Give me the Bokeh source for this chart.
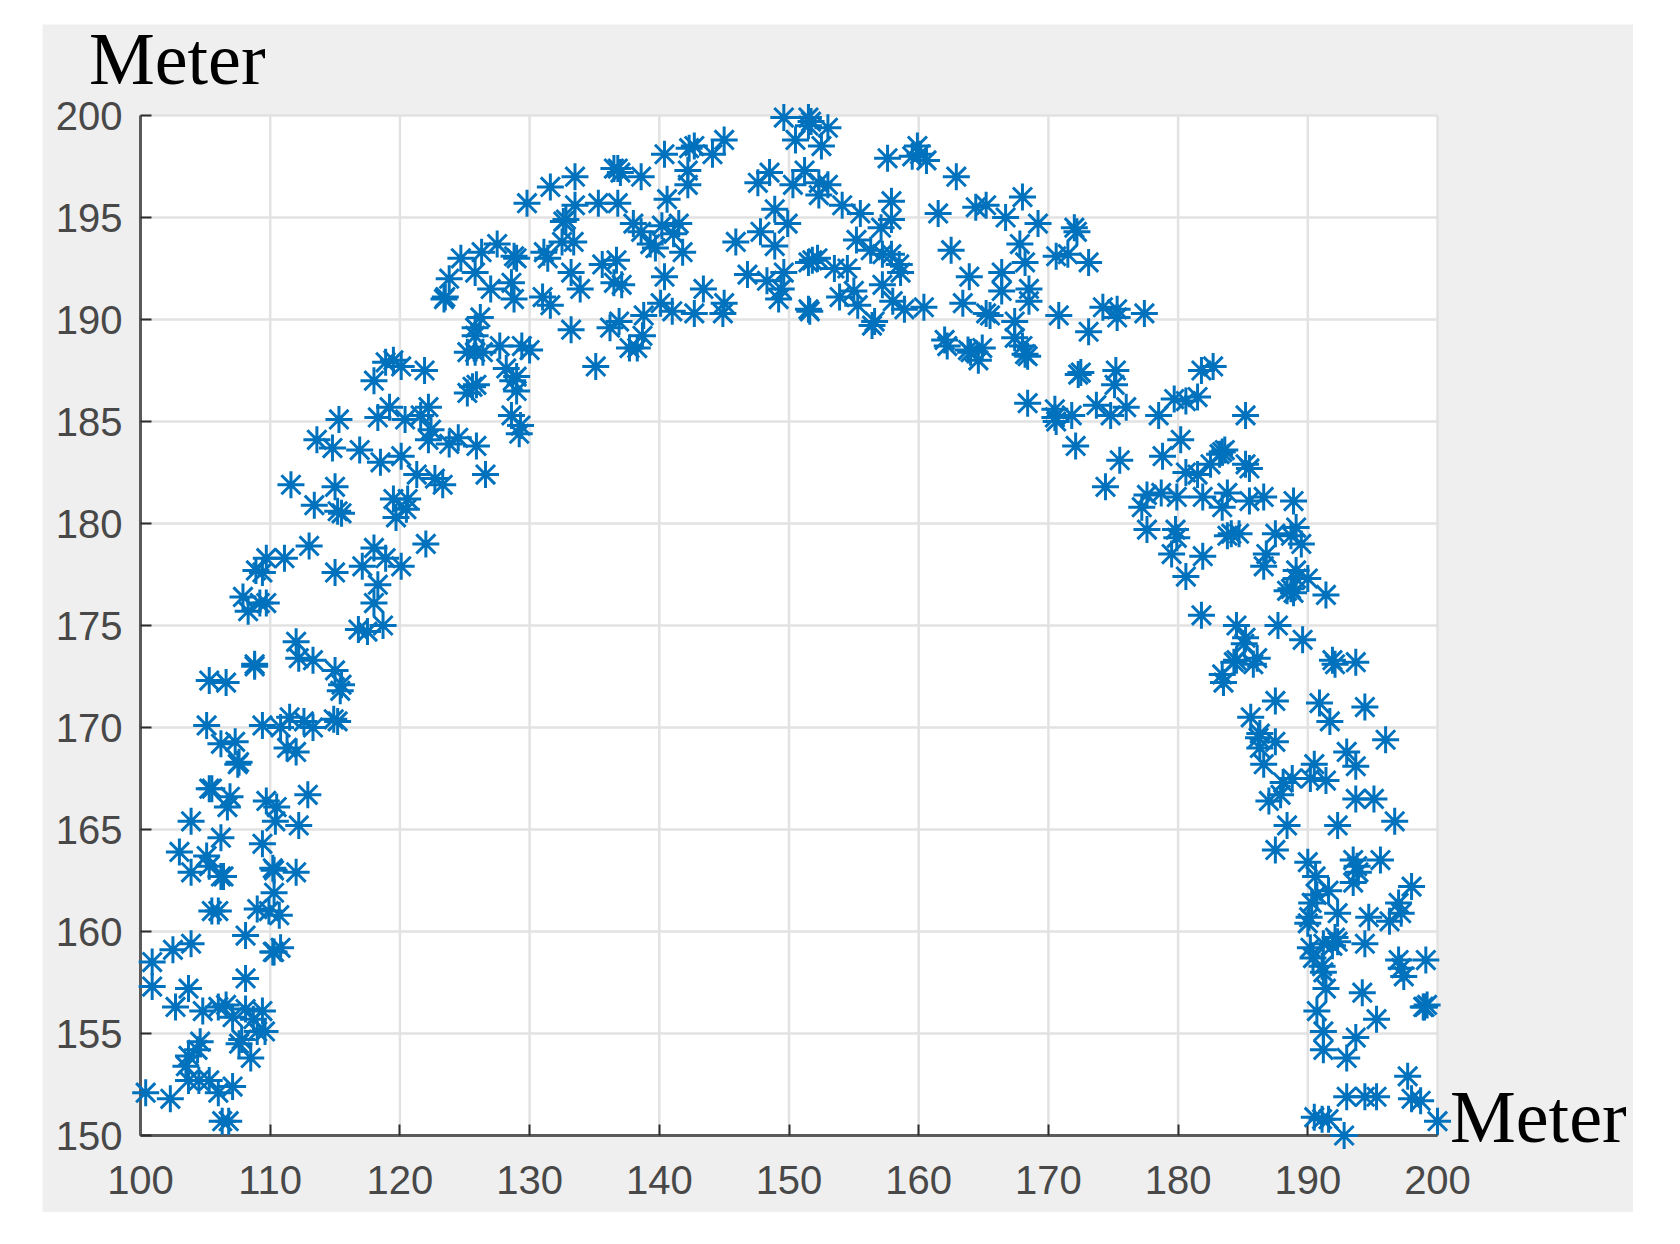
from bokeh.plotting import figure
from bokeh.models import FixedTicker, Label
from bokeh.embed import file_html
from bokeh.resources import INLINE

x_ticks = list(range(100, 201, 10))
y_ticks = list(range(150, 201, 5))
axis_title = "Meter"

bottom_left = [(105.5,161.0),(106.0,161.0),(109.0,161.1),(110.3,161.9),(110.7,160.8),(109.9,161.0),(108.1,159.8),(103.9,159.4),
 (102.5,159.1),(100.9,158.5),(100.9,157.3),(110.3,159.0),(110.8,159.2),(110.2,159.0),(108.1,157.7),(103.7,157.2),(102.7,156.3),
 (104.8,156.1),(106.0,156.3),(106.6,156.4),(108.1,156.2),(109.4,156.1),(107.1,155.8),(108.7,155.7),(109.0,155.1),(109.6,155.1),
 (107.6,154.5),(107.8,154.7),(108.5,153.8),(104.6,154.6),(104.4,154.2),(103.7,153.9),(103.5,153.4),(103.7,152.7),(104.5,152.7),
 (105.3,152.7),(106.0,152.1),(107.1,152.4),(100.4,152.1),(102.3,151.8),(106.3,150.7),(106.8,150.7)]

mid_left = [(116.8,174.8),(117.5,174.7),(118.7,175.0),(112.0,174.2),(112.2,173.4),(113.3,173.3),(115.0,172.8),(115.5,172.1),
 (115.4,171.8),(114.9,170.4),(115.2,170.3),(108.8,173.1),(108.8,173.0),(105.3,172.3),(106.6,172.2),(105.1,170.1),(109.4,170.1),
 (110.8,170.0),(111.5,170.5),(112.6,170.3),(113.3,170.0),(106.2,169.2),(107.3,169.3),(111.3,169.0),(112.0,168.8),(107.6,168.3),
 (107.5,168.2),(105.3,167.0),(105.5,167.0),(106.9,166.6),(106.7,166.1),(109.7,166.4),(110.5,166.1),(112.9,166.7),(110.4,165.4),
 (112.2,165.2),(103.9,165.4),(106.2,164.6),(109.4,164.3),(103.0,163.9),(105.1,163.7),(105.3,163.2),(103.9,162.9),(106.2,162.7),
 (106.4,162.7),(110.2,163.1),(110.3,163.0),(112.0,162.9)]

upper_left = [(125.8,189.2),(125.2,188.4),(125.8,188.4),(126.4,188.4),(127.7,188.7),(129.4,188.7),(130.0,188.5),(128.2,187.6),
 (129.0,187.2),(128.7,187.0),(129.0,186.5),(128.6,185.3),(129.3,184.8),(129.2,184.4),(125.6,186.7),(125.2,186.4),(125.9,186.8),
 (119.5,188.0),(118.9,187.9),(120.1,187.7),(121.9,187.5),(118.0,187.0),(119.2,185.7),(118.3,185.2),(120.4,185.1),(122.2,185.7),
 (121.6,185.3),(115.3,185.1),(122.4,184.6),(122.2,184.1),(123.8,183.9),(124.5,184.2),(125.9,183.8),(113.6,184.1),(114.8,183.7),
 (116.9,183.6),(118.5,183.0),(120.1,183.3),(121.3,182.4),(122.7,182.2),(123.3,181.9),(126.6,182.4),(111.6,181.9),(115.0,181.8),
 (113.4,180.9),(115.2,180.6),(115.5,180.5),(119.5,181.2),(120.6,181.2),(120.5,180.7),(119.7,180.3),(122.0,179.0),(113.0,178.9),
 (109.7,178.3),(111.1,178.3),(108.9,177.7),(109.4,177.6),(118.0,178.8),(118.9,178.3),(117.1,177.9),(120.1,177.9),(115.0,177.6),
 (118.3,177.0),(118.0,176.1),(107.9,176.4),(108.3,175.7),(109.2,176.1),(109.7,176.1),(126.2,190.1),(125.8,189.6)]

top_left = [(149.6,199.9),(151.7,199.7),(150.5,198.8),(145.0,198.8),(142.7,198.5),(142.3,198.4),(144.1,198.1),(140.4,198.1),
 (142.2,197.3),(142.2,196.6),(136.8,197.4),(137.0,197.2),(136.5,197.4),(138.6,197.0),(133.5,197.0),(131.6,196.5),(129.8,195.7),
 (140.6,195.9),(133.5,195.6),(135.3,195.7),(136.8,195.7),(132.8,194.9),(132.6,194.8),(138.0,194.7),(138.6,194.3),(140.2,194.6),
 (141.5,194.7),(141.1,194.2),(148.5,197.2),(147.6,196.7),(151.2,197.3),(150.3,196.6),(148.9,195.4),(149.9,194.7),(147.8,194.3),
 (148.9,193.6),(145.9,193.8),(149.6,192.3),(149.4,191.5),(149.2,191.0),(148.3,191.9),(146.8,192.2),(151.8,192.9),(151.5,190.5),
 (151.6,190.4),(143.4,191.5),(140.4,192.1),(141.8,193.3),(139.7,193.5),(139.3,193.7),(133.4,193.8),(132.5,193.8),(131.1,193.3),
 (131.4,193.0),(129.0,193.0),(128.8,193.1),(127.5,193.7),(126.3,193.3),(124.7,193.0),(125.8,192.3),(123.8,192.0),(123.4,191.0),
 (123.5,191.1),(127.0,191.5),(128.6,191.8),(128.8,191.0),(131.0,191.1),(131.6,190.7),(133.2,192.3),(133.9,191.5),(135.6,192.7),
 (136.7,192.9),(136.5,191.8),(137.1,191.7),(140.1,190.8),(141.0,190.4),(142.7,190.3),(144.9,190.3),(145.0,190.8),(138.8,190.2),
 (136.9,189.9),(136.2,189.6),(133.2,189.5),(138.7,189.2),(137.7,188.6),(138.3,188.6),(135.1,187.7)]

top_right = [(151.5,199.9),(151.5,199.5),(153.0,199.4),(152.5,198.5),(157.6,197.9),(159.9,198.5),(159.5,198.0),(160.1,198.1),
 (160.6,197.8),(162.9,197.0),(152.3,196.7),(153.0,196.6),(152.3,196.1),(154.1,195.6),(155.5,195.2),(157.9,195.8),(157.9,194.9),
 (157.1,194.5),(161.5,195.2),(164.4,195.5),(165.2,195.6),(166.7,195.0),(168.0,196.0),(169.2,194.7),(172.0,194.5),(172.2,194.3),
 (155.2,193.9),(156.3,193.4),(157.2,193.2),(157.9,193.2),(158.6,192.3),(158.5,192.7),(162.5,193.4),(167.8,193.7),(168.2,192.8),
 (170.6,193.1),(171.5,193.2),(173.1,192.8),(152.2,193.0),(151.5,192.8),(153.5,192.5),(154.5,192.5),(157.2,191.7),(155.0,191.4),
 (153.9,191.1),(155.3,190.7),(158.0,190.9),(158.9,190.5),(160.4,190.6),(156.6,189.9),(156.4,189.7),(163.9,192.1),(166.4,192.3),
 (166.4,191.4),(168.5,191.5),(168.5,190.9),(163.4,190.8),(165.2,190.3),(165.5,190.2),(170.8,190.2),(167.4,189.9),(167.4,189.1),
 (168.2,188.3),(168.0,188.7),(162.0,189.0),(162.2,188.7),(164.0,188.4),(164.9,188.6),(164.6,188.0),(163.8,188.5),(173.1,189.4),
 (174.2,190.6),(175.3,190.5),(175.3,190.1),(177.4,190.3)]

upper_right = [(168.4,188.2),(172.3,187.3),(172.5,187.4),(175.2,187.5),(175.1,186.8),(181.8,187.5),(182.7,187.7),(168.4,185.9),
 (170.5,185.6),(170.5,185.2),(170.6,185.0),(171.8,185.3),(173.7,185.8),(174.8,185.3),(176.0,185.7),(178.5,185.3),(179.7,186.1),
 (180.6,186.0),(181.5,186.2),(185.2,185.3),(172.1,183.8),(180.2,184.1),(178.8,183.3),(175.5,183.1),(174.4,181.8),(183.4,183.5),
 (183.6,183.6),(183.2,183.4),(182.5,182.9),(185.2,182.9),(185.5,182.7),(180.6,182.5),(181.5,182.4),(177.6,181.4),(178.7,181.5),
 (179.9,181.3),(181.9,181.3),(183.8,181.5),(185.5,181.1),(186.6,181.3),(188.9,181.1),(177.2,180.8),(183.4,180.8),(177.6,179.7),
 (179.8,179.7),(179.9,179.3),(184.1,179.5),(184.7,179.5),(183.8,179.4),(187.5,179.5),(189.1,179.8),(188.7,179.4),(189.5,179.0),
 (179.5,178.5),(181.9,178.4),(186.8,178.5),(186.6,177.9),(180.6,177.4),(189.1,177.7),(189.1,177.3),(190.0,177.3),(188.7,176.8),
 (188.9,176.6),(188.4,176.7),(191.4,176.5),(181.8,175.5),(184.5,175.0),(187.7,175.0),(189.6,174.3),(185.2,174.4),(185.1,174.1)]

mid_right = [(184.3,173.2),(184.5,173.3),(186.1,173.4),(185.8,173.1),(183.4,172.6),(183.5,172.2),(191.9,173.3),(192.1,173.1),
 (193.7,173.2),(187.5,171.3),(190.9,171.2),(191.7,170.3),(194.4,171.0),(196.0,169.4),(185.6,170.5),(186.3,169.7),(186.3,169.0),
 (187.5,169.3),(186.2,169.5),(186.6,168.2),(193.0,168.8),(193.7,168.1),(190.5,168.2),(191.4,167.4),(190.2,167.5),(188.8,167.5),
 (188.1,167.3),(187.9,166.7),(187.0,166.4),(193.7,166.5),(195.1,166.5),(196.7,165.4),(188.4,165.2),(192.3,165.2),(187.5,164.0),
 (190.0,163.4),(190.6,162.7),(193.5,163.5),(193.8,163.2),(195.6,163.5),(193.5,162.4),(193.9,162.9),(198.0,162.2)]

bottom_right = [(190.7,161.8),(191.6,162.0),(190.3,161.4),(192.3,160.9),(190.0,160.4),(190.1,160.7),(194.7,160.7),(196.3,160.5),
 (197.0,161.4),(197.2,160.9),(192.1,159.7),(191.9,159.3),(191.2,159.4),(192.3,159.5),(194.4,159.4),(190.2,159.2),(190.4,158.7),
 (191.2,158.0),(191.1,158.3),(197.0,158.6),(197.2,158.2),(197.4,157.8),(199.1,158.6),(191.4,157.2),(194.2,157.0),(190.7,156.1),
 (198.9,156.3),(199.0,156.3),(199.2,156.4),(195.3,155.7),(191.2,155.1),(193.7,154.8),(191.2,154.2),(193.0,153.8),(197.7,152.9),
 (193.0,151.9),(194.4,151.9),(195.3,151.9),(198.0,151.8),(198.7,151.7),(190.5,150.9),(191.6,150.8),(191.1,150.8),(192.8,150.0),
 (200.0,150.7)]

regions = [bottom_left, mid_left, upper_left, top_left, top_right, upper_right, mid_right, bottom_right]
xs = [pt[0] for region in regions for pt in region]
ys = [pt[1] for region in regions for pt in region]

# plot box sits inside a grey panel: the frame is the panel, the axes are pinned at 100 / 150
ppx = (1437 - 140) / 100
ppy = (1135 - 115) / 50
p = figure(width=1672, height=1236, output_backend="svg", toolbar_location=None,
           x_range=(100 - (140 - 42) / ppx, 200 + (1633 - 1437) / ppx),
           y_range=(150 - (1212 - 1135) / ppy, 200 + (115 - 24) / ppy),
           frame_width=1591, frame_height=1188,
           min_border_left=42, min_border_top=24, min_border_right=0, min_border_bottom=0,
           background_fill_color="#efefef", border_fill_color="white", outline_line_color=None)
p.grid.visible = False

p.quad(left=[100], right=[200], bottom=[150], top=[200], fill_color="white", line_color=None)
p.segment(x0=x_ticks, x1=x_ticks, y0=[150] * len(x_ticks), y1=[200] * len(x_ticks), line_color="#e2e2e2", line_width=2.5)
p.segment(x0=[100] * len(y_ticks), x1=[200] * len(y_ticks), y0=y_ticks, y1=y_ticks, line_color="#e2e2e2", line_width=2.5)

for ax, ticks, loc, bounds, standoff in ((p.xaxis[0], x_ticks, 150, (100, 200), 30), (p.yaxis[0], y_ticks, 100, (150, 200), 18)):
    ax.fixed_location = loc
    ax.bounds = bounds
    ax.ticker = FixedTicker(ticks=ticks)
    ax.axis_line_color = "#5a5a5a"
    ax.axis_line_width = 3
    ax.major_tick_line_color = "#2e2e2e"
    ax.major_tick_line_width = 2
    ax.major_tick_in = 11
    ax.major_tick_out = 0
    ax.minor_tick_line_color = None
    ax.major_label_text_font = "Liberation Sans"
    ax.major_label_text_font_size = "40px"
    ax.major_label_text_color = "#484848"
    ax.major_label_standoff = standoff

p.asterisk(xs, ys, size=27, line_color="#0072BD", line_width=3, level="overlay")

for lx, ly in ((96.02, 202.75), (200.96, 150.89)):
    p.add_layout(Label(x=lx, y=ly, text=axis_title, text_font="Liberation Serif", text_font_size="74px",
                       text_color="black", text_baseline="alphabetic", text_align="left"))

open("out.html", "w").write(file_html(p, INLINE))
